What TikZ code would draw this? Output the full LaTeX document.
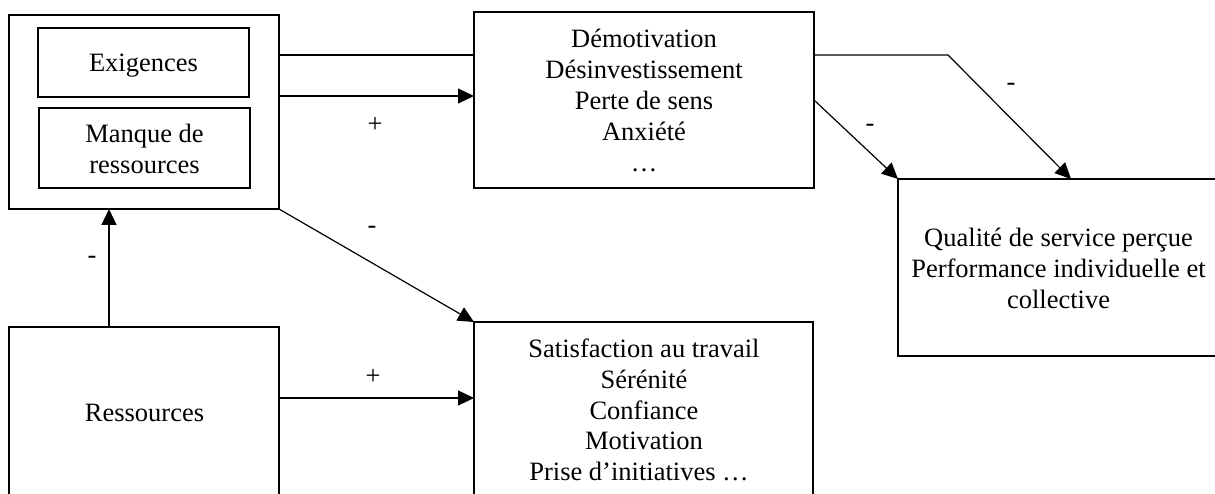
\documentclass[tikz,border=0pt]{standalone}
\usepackage{fontspec}
\setmainfont{Liberation Serif}
\usetikzlibrary{arrows.meta}
\begin{document}
\begin{tikzpicture}[x=1pt,y=-1pt,
  box/.style={draw, line width=2.8pt, inner sep=0pt, outer sep=0pt},
  inbox/.style={draw, line width=1.3pt, inner sep=0pt, outer sep=0pt},
  txt/.style={align=center, inner sep=0pt, font=\fontsize{26.5}{30.8}\selectfont},
  sign/.style={inner sep=0pt, font=\fontsize{26.5}{30.8}\selectfont},
  conn/.style={line width=1.2pt},
  arr/.style={conn, -{Triangle[length=16pt,width=15pt]}}]
\useasboundingbox (0,0) rectangle (1215,494);
\clip (0,0) rectangle (1215,494);
\fill[white] (0,0) rectangle (1215,494);

% boxes
\node[box, minimum width=270pt, minimum height=194pt] (ext) at (144,112) {};
\node[inbox, minimum width=211pt, minimum height=69pt] (exig) at (143.5,62.5) {};
\node[inbox, minimum width=211pt, minimum height=80pt] (manq) at (144.5,148) {};
\node[box, minimum width=340pt, minimum height=176pt] (dem) at (644,100) {};
\node[box, minimum width=322pt, minimum height=177pt] (qual) at (1059,267.5) {};
\node[box, minimum width=270pt, minimum height=193pt] (res) at (144,423.5) {};
\node[box, minimum width=339pt, minimum height=198pt] (sat) at (643.5,421) {};

% texts
\node[txt] (exigT) at (143.5,65.8) {Exigences\strut};
\node[txt] (manqT) at (144.5,152.2) {Manque de\strut\\ressources\strut};
\node[txt] (demT) at (644,103.4) {Démotivation\strut\\Désinvestissement\strut\\Perte de sens\strut\\Anxiété\strut\\…\strut};
\node[txt] (qualT) at (1058.5,271.6) {Qualité de service perçue\strut\\Performance individuelle et\strut\\collective\strut};
\node[txt] (resT) at (144.5,415.8) {Ressources\strut};
\node[txt] (satT) at (644,412.9) {Satisfaction au travail\strut\\Sérénité\strut\\Confiance\strut\\Motivation\strut\\Prise d’initiatives …\hspace*{10pt}\strut};

% helper coordinates
\coordinate (h55) at (0,55);
\coordinate (h96) at (0,96);
\coordinate (h100) at (0,100);
\coordinate (h398) at (0,398);
\coordinate (v109) at (109,0);
\coordinate (bend) at (948,55);
\coordinate (v1071) at (1071,0);

% connectors
\draw[conn] (ext.east |- h55) -- (dem.west |- h55);
\draw[arr] (ext.east |- h96) -- (dem.west |- h96);
\draw[arr] (ext.south east) -- (sat.north west);
\draw[arr] (v109 |- res.north) -- (v109 |- ext.south);
\draw[arr] (res.east |- h398) -- (sat.west |- h398);
\draw[arr] (dem.east |- h55) -- (bend) -- (v1071 |- qual.north);
\draw[arr] (dem.east |- h100) -- (qual.north west);

% signs
\node[sign] (s1) at (375,125) {+};
\node[sign] (s2) at (373,377) {+};
\node[sign] (s3) at (372,230) {-};
\node[sign] (s4) at (92,260) {-};
\node[sign] (s5) at (870,128) {-};
\node[sign] (s6) at (1011,87) {-};
\end{tikzpicture}
\end{document}
